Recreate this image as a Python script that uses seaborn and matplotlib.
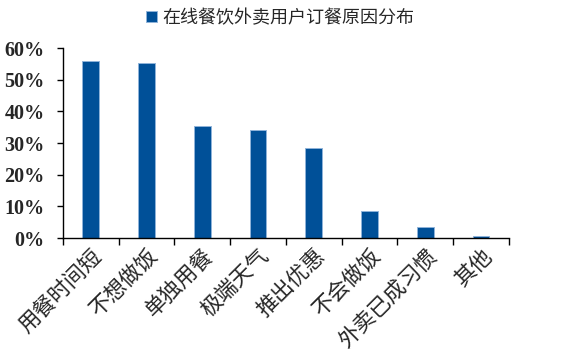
import matplotlib
matplotlib.use("Agg")
import matplotlib.pyplot as plt
import seaborn as sns
import numpy as np
from matplotlib.ticker import FixedLocator, PercentFormatter

categories = ["用餐时间短", "不想做饭", "单独用餐", "极端天气", "推出优惠", "不会做饭", "外卖已成习惯", "其他"]
values = [0.56, 0.552, 0.353, 0.34, 0.285, 0.084, 0.034, 0.005]
series_name = "在线餐饮外卖用户订餐原因分布"

sns.set_style("white")
plt.rcParams["font.family"] = ["Noto Sans CJK SC", "DejaVu Sans"]

fig = plt.figure(figsize=(5.87, 3.59), dpi=100)
ax = fig.add_axes([0.107, 0.337, 0.760, 0.529])

sns.barplot(x=categories, y=values, color="#005098", width=0.3,
            edgecolor="#8fb3d9", linewidth=0.7, saturation=1,
            label=series_name, ax=ax)

ax.set_ylim(0, 0.6)
ax.set_xlim(-0.5, len(categories) - 0.5)
ax.yaxis.set_major_formatter(PercentFormatter(1.0, decimals=0))
ax.set_yticks(np.arange(0, 0.61, 0.1))

for s in ["top", "right"]:
    ax.spines[s].set_visible(False)
for s in ["left", "bottom"]:
    ax.spines[s].set_color("black")
    ax.spines[s].set_linewidth(1.0)

ax.tick_params(axis="y", which="major", length=4, width=1, color="black", direction="out", left=True, pad=9)
ax.tick_params(axis="x", which="major", length=0, pad=5)
ax.xaxis.set_minor_locator(FixedLocator(np.arange(-0.5, len(categories), 1.0)))
ax.tick_params(axis="x", which="minor", length=5, width=1, color="black", direction="out", bottom=True)

for lab in ax.get_yticklabels():
    lab.set_fontfamily("Liberation Serif")
    lab.set_fontweight("bold")
    lab.set_fontsize(14.5)

ax.set_xticks(range(len(categories)))
ax.set_xticklabels(categories, rotation=45, ha="right", rotation_mode="anchor", fontsize=15.5)
ax.set_xlabel("")
ax.set_ylabel("")

ax.legend(loc="center", bbox_to_anchor=(0.487, 1.158), frameon=False,
          fontsize=13, handlelength=0.6, handleheight=0.6, handletextpad=0.3, borderaxespad=0)

fig.savefig("out.png", dpi=100)
